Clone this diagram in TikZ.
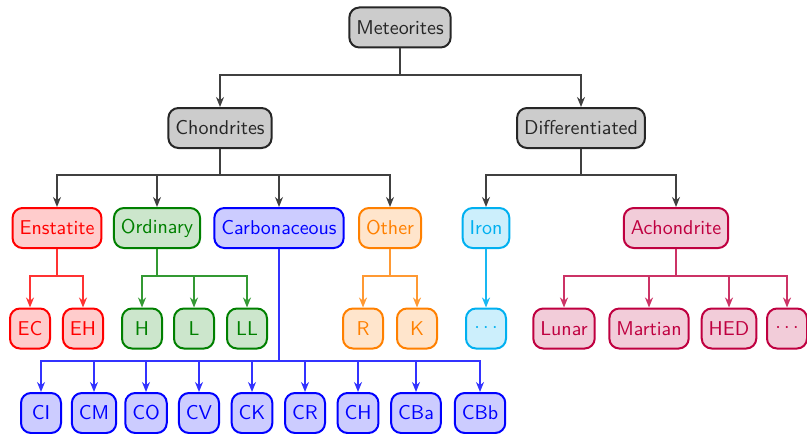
\documentclass[tikz,border=0pt]{standalone}
\usetikzlibrary{arrows.meta}
\definecolor{ironblue}{RGB}{0,176,240}
\definecolor{darkgreen}{RGB}{0,128,0}
\definecolor{crimson}{RGB}{191,0,64}
\tikzset{
  box/.style={draw=#1, fill=#1!20, line width=1pt, rounded corners=5pt,
    minimum height=20pt, minimum width=20pt, inner xsep=3.5pt,
    text=#1, font=\sffamily},
  graybox/.style={draw=black!85, fill=black!20, line width=1pt, rounded corners=5pt,
    minimum height=20pt, minimum width=20pt, inner xsep=3.5pt,
    text=black!85, font=\sffamily},
  link/.style={draw=#1, line width=1pt, -{Stealth[length=5pt,width=4pt]}},
}
\begin{document}
\begin{tikzpicture}[x=0.5pt, y=-0.5pt]
\useasboundingbox (0,0) rectangle (807,433);

% levels 0 and 1
\node[graybox] (met) at (400,27.5) {Meteorites};
\node[graybox] (cho) at (220,128) {Chondrites};
\node[graybox] (dif) at (581,128) {Differentiated};

% level 2
\node[box=red] (ens) at (57,228) {Enstatite};
\node[box=darkgreen] (ord) at (157,228) {Ordinary};
\node[box=blue] (car) at (279,228) {Carbonaceous};
\node[box=orange] (oth) at (390,228) {Other};
\node[box=ironblue] (iro) at (486,228) {Iron};
\node[box=crimson] (ach) at (676,228) {Achondrite};

% level 3
\node[box=red] (ec) at (30,328.5) {EC};
\node[box=red] (eh) at (83,328.5) {EH};
\node[box=darkgreen] (h) at (142,328.5) {H};
\node[box=darkgreen] (l) at (194,328.5) {L};
\node[box=darkgreen] (ll) at (247,328.5) {LL};
\node[box=orange] (r) at (363,328.5) {R};
\node[box=orange] (k) at (417,328.5) {K};
\node[box=ironblue] (irx) at (486,328.5) {$\cdots$};
\node[box=crimson] (lun) at (564,328.5) {Lunar};
\node[box=crimson] (mar) at (649,328.5) {Martian};
\node[box=crimson] (hed) at (729,328.5) {HED};
\node[box=crimson] (acx) at (787,328.5) {$\cdots$};

% carbonaceous groups
\node[box=blue] (ci) at (41,413) {CI};
\node[box=blue] (cm) at (94,413) {CM};
\node[box=blue] (co) at (146,413) {CO};
\node[box=blue] (cv) at (199,413) {CV};
\node[box=blue] (ck) at (252,413) {CK};
\node[box=blue] (cr) at (305,413) {CR};
\node[box=blue] (ch) at (358,413) {CH};
\node[box=blue] (cba) at (416,413) {CBa};
\node[box=blue] (cbb) at (480,413) {CBb};

% heights of the horizontal bars
\coordinate (y0) at (0,75);
\coordinate (y1) at (0,175);
\coordinate (y2) at (0,276);
\coordinate (y3) at (0,361);

% connectors
\foreach \c in {cho,dif}
  \draw[link=black!75] (met.south) -- (met.south |- y0) -| (\c.north);
\foreach \c in {ens,ord,car,oth}
  \draw[link=black!75] (cho.south) -- (cho.south |- y1) -| (\c.north);
\foreach \c in {iro,ach}
  \draw[link=black!75] (dif.south) -- (dif.south |- y1) -| (\c.north);
\foreach \c in {ec,eh}
  \draw[link=red!80] (ens.south) -- (ens.south |- y2) -| (\c.north);
\foreach \c in {h,l,ll}
  \draw[link=darkgreen!80] (ord.south) -- (ord.south |- y2) -| (\c.north);
\foreach \c in {r,k}
  \draw[link=orange!80] (oth.south) -- (oth.south |- y2) -| (\c.north);
\draw[link=ironblue!90] (iro.south) -- (irx.north);
\foreach \c in {lun,mar,hed,acx}
  \draw[link=crimson!80] (ach.south) -- (ach.south |- y2) -| (\c.north);
\foreach \c in {ci,cm,co,cv,ck,cr,ch,cba,cbb}
  \draw[link=blue!80] (car.south) -- (car.south |- y3) -| (\c.north);
\end{tikzpicture}
\end{document}
